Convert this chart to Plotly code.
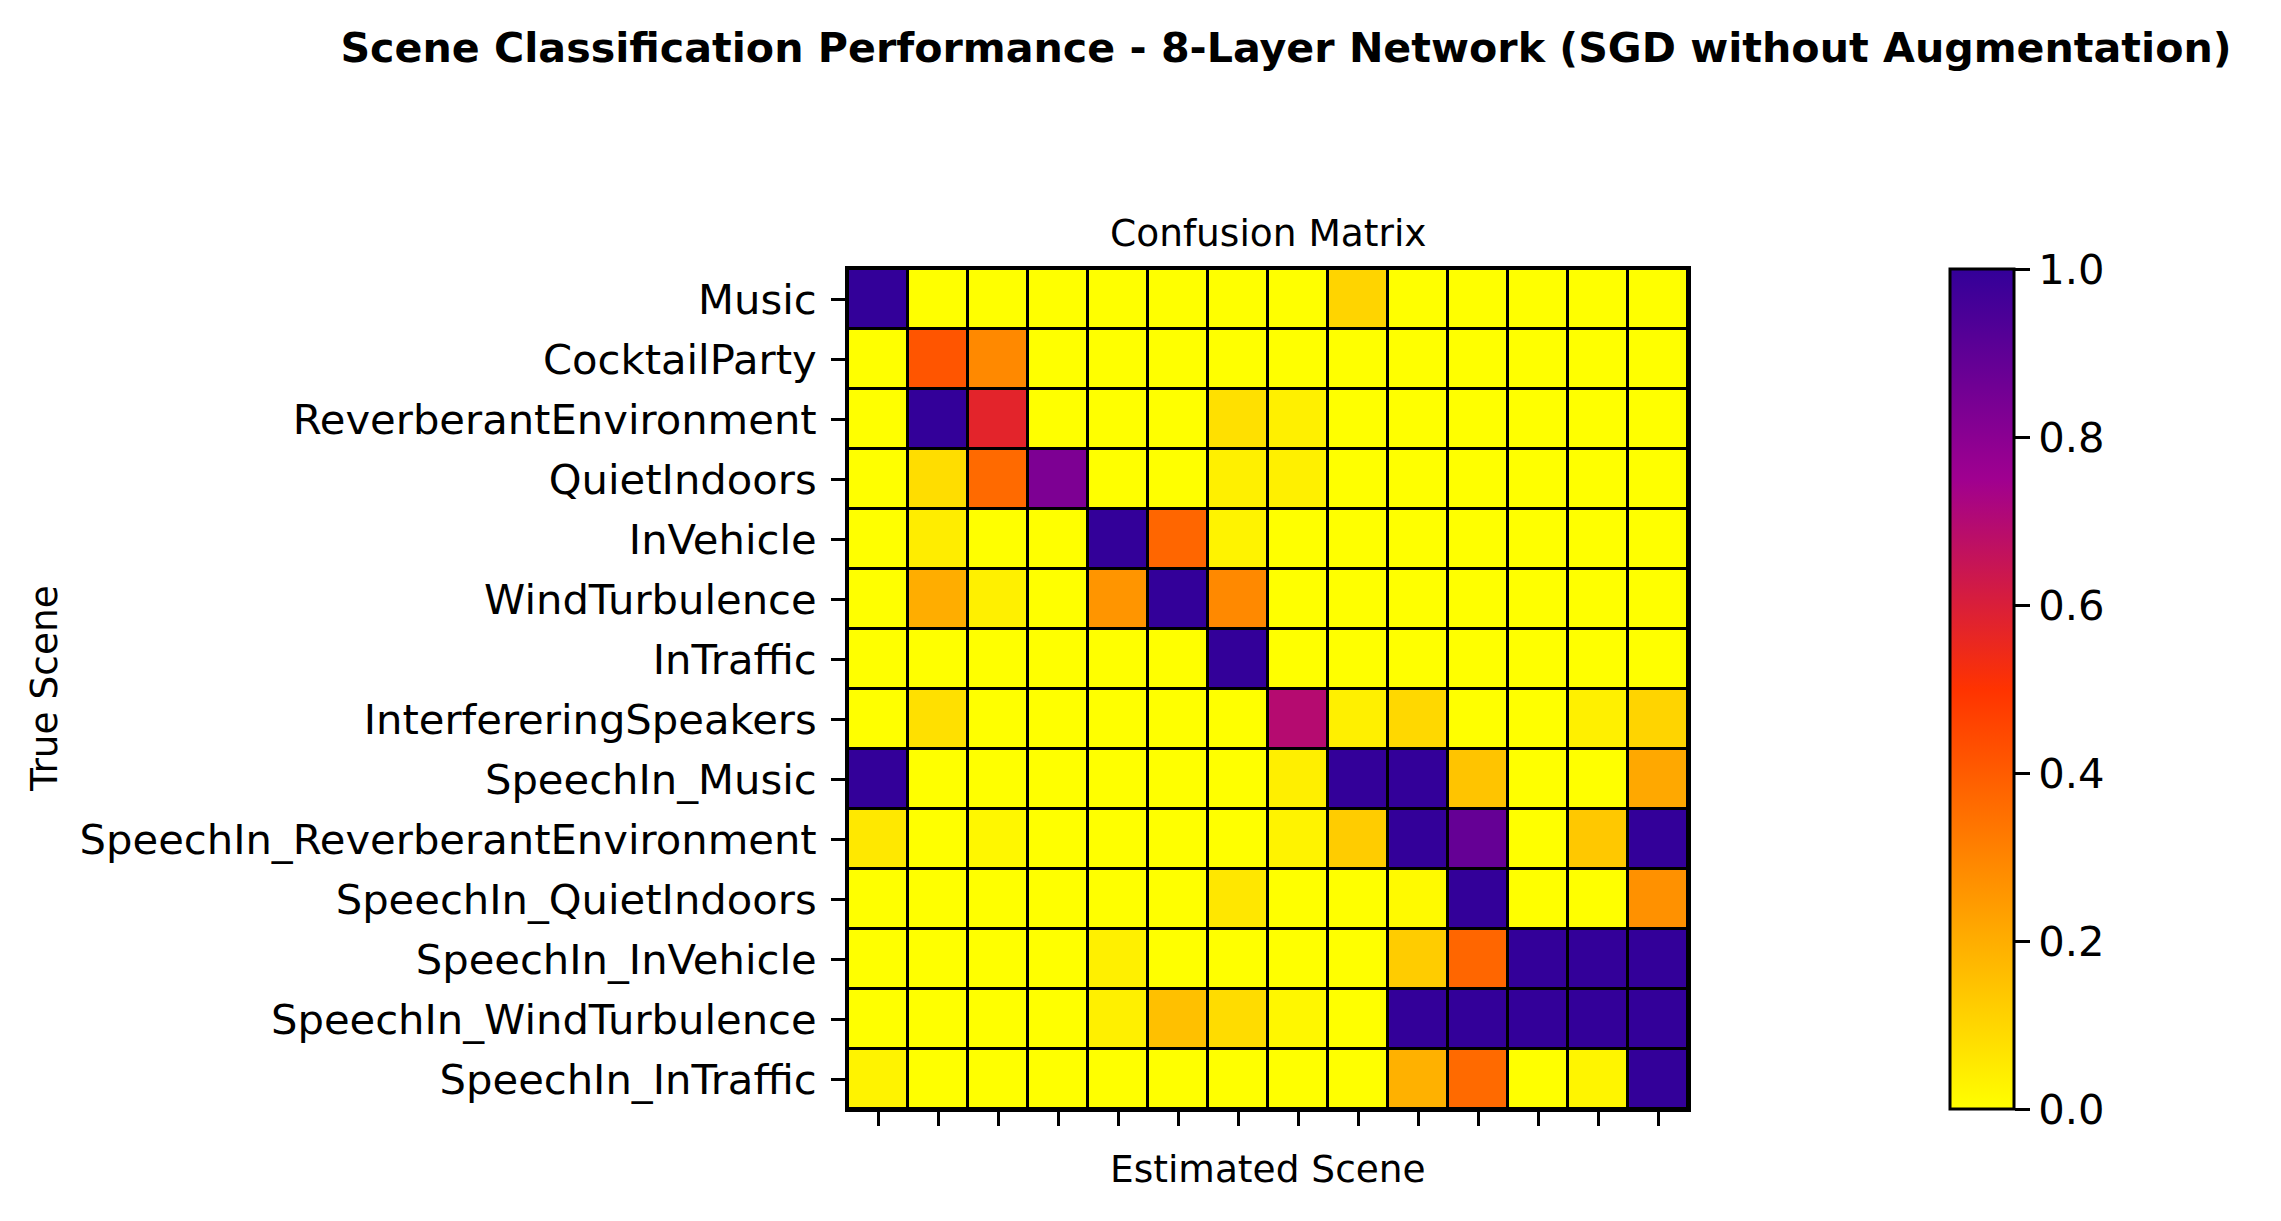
#!/usr/bin/env python3
"""
Confusion matrix heatmap for the 8-layer scene classifier (SGD, no augmentation).

Usage:
    python plot.py
"""

import plotly.graph_objects as go

SCENES = [
    "Music", "CocktailParty", "ReverberantEnvironment", "QuietIndoors",
    "InVehicle", "WindTurbulence", "InTraffic", "InterfereringSpeakers",
    "SpeechIn_Music", "SpeechIn_ReverberantEnvironment", "SpeechIn_QuietIndoors",
    "SpeechIn_InVehicle", "SpeechIn_WindTurbulence", "SpeechIn_InTraffic",
]

# rows = true scene, columns = estimated scene
ROW_MUSIC = [1.0, 0, 0, 0, 0, 0, 0, 0, 0.105, 0, 0, 0, 0, 0]
ROW_COCKTAIL = [0, 0.417, 0.29, 0, 0, 0, 0, 0, 0, 0, 0, 0, 0, 0]
ROW_REVERB = [0, 1.0, 0.574, 0, 0, 0, 0.076, 0.037, 0, 0, 0, 0, 0, 0]
ROW_QUIET = [0, 0.083, 0.365, 0.83, 0, 0, 0.037, 0.037, 0, 0, 0, 0, 0, 0]
ROW_VEHICLE = [0, 0.045, 0, 0, 1.0, 0.375, 0.03, 0, 0, 0, 0, 0, 0, 0]
ROW_WIND = [0, 0.2, 0.037, 0, 0.26, 1.0, 0.29, 0, 0, 0, 0, 0, 0, 0]
ROW_TRAFFIC = [0, 0, 0, 0, 0, 0, 1.0, 0, 0, 0, 0, 0, 0, 0]
ROW_INTERF = [0, 0.076, 0, 0, 0, 0, 0, 0.695, 0.037, 0.096, 0, 0, 0.037, 0.105]
ROW_SP_MUSIC = [1.0, 0, 0, 0, 0, 0, 0, 0.04, 1.0, 1.0, 0.145, 0, 0, 0.213]
ROW_SP_REVERB = [0.057, 0, 0.02, 0, 0, 0, 0, 0.03, 0.125, 1.0, 0.885, 0, 0.135, 1.0]
ROW_SP_QUIET = [0, 0, 0, 0, 0, 0, 0.06, 0, 0, 0.012, 1.0, 0, 0, 0.27]
ROW_SP_VEHICLE = [0, 0, 0, 0, 0.037, 0, 0, 0, 0, 0.125, 0.375, 1.0, 1.0, 1.0]
ROW_SP_WIND = [0, 0, 0, 0, 0.037, 0.154, 0.085, 0.02, 0, 1.0, 1.0, 1.0, 1.0, 1.0]
ROW_SP_TRAFFIC = [0.03, 0, 0, 0, 0, 0, 0, 0, 0, 0.19, 0.365, 0, 0.025, 1.0]

CONFUSION = [
    ROW_MUSIC, ROW_COCKTAIL, ROW_REVERB, ROW_QUIET, ROW_VEHICLE, ROW_WIND,
    ROW_TRAFFIC, ROW_INTERF, ROW_SP_MUSIC, ROW_SP_REVERB, ROW_SP_QUIET,
    ROW_SP_VEHICLE, ROW_SP_WIND, ROW_SP_TRAFFIC,
]

CBAR_TICKS = [0.0, 0.2, 0.4, 0.6, 0.8, 1.0]

FONT = "DejaVu Sans"
W, H = 2281, 1221

# yellow -> red-orange -> magenta -> indigo
COLORSCALE = [
    [0.0, "#ffff00"],
    [0.5, "#ff3300"],
    [0.75, "#a00090"],
    [1.0, "#330099"],
]


def px_x(p):
    return p / W


def px_y(p):
    return 1 - p / H


def build_figure():
    cols = list(range(len(SCENES)))

    fig = go.Figure()
    fig.add_trace(go.Heatmap(
        z=CONFUSION,
        x=cols,
        y=SCENES,
        zmin=0, zmax=1,
        colorscale=COLORSCALE,
        xgap=3, ygap=3,
        colorbar=dict(
            x=px_x(1950), xanchor="left", xpad=0,
            y=px_y(689), yanchor="middle", ypad=0,
            len=840, lenmode="pixels",
            thickness=64,
            outlinewidth=3, outlinecolor="black",
            tickvals=CBAR_TICKS, tickformat=".1f",
            ticks="outside", ticklen=15, tickwidth=3, tickcolor="black",
            tickfont=dict(family=FONT, size=41.7, color="black"),
        ),
    ))

    fig.update_layout(
        width=W, height=H,
        margin=dict(l=0, r=0, t=0, b=0),
        paper_bgcolor="white",
        plot_bgcolor="black",
        font=dict(family=FONT, color="black"),
        title=dict(
            text="<b>Scene Classification Performance - 8-Layer Network (SGD without Augmentation)</b>",
            x=px_x(1286), xanchor="center",
            y=px_y(48), yanchor="middle",
            font=dict(family=FONT, size=41.2, color="black"),
        ),
        xaxis=dict(
            domain=[px_x(848), px_x(1688)],
            range=[-0.5, len(SCENES) - 0.5],
            tickvals=cols, showticklabels=False,
            ticks="outside", ticklen=14, tickwidth=3, tickcolor="black",
            showline=True, linecolor="black", linewidth=3, mirror=True,
            showgrid=False, zeroline=False,
        ),
        yaxis=dict(
            domain=[px_y(1109), px_y(269)],
            autorange="reversed",
            ticks="outside", ticklen=14, tickwidth=3, tickcolor="black",
            tickfont=dict(family=FONT, size=41.7, color="black"),
            ticklabelstandoff=6,
            showline=True, linecolor="black", linewidth=3, mirror=True,
            showgrid=False, zeroline=False,
        ),
    )

    fig.add_annotation(text="Confusion Matrix", xref="paper", yref="paper",
                       x=px_x(1268), y=px_y(233), xanchor="center", yanchor="middle",
                       showarrow=False, font=dict(family=FONT, size=37.5))
    fig.add_annotation(text="Estimated Scene", xref="paper", yref="paper",
                       x=px_x(1268), y=px_y(1169), xanchor="center", yanchor="middle",
                       showarrow=False, font=dict(family=FONT, size=37.5))
    fig.add_annotation(text="True Scene", xref="paper", yref="paper",
                       x=px_x(44), y=px_y(689), xanchor="center", yanchor="middle",
                       textangle=-90, showarrow=False,
                       font=dict(family=FONT, size=37.5))
    return fig


def main():
    fig = build_figure()
    fig.write_html("out.html",
                   config={"displayModeBar": False},
                   post_script="document.body.style.margin='0px';"
                               "document.body.style.overflow='hidden';")


if __name__ == "__main__":
    main()
